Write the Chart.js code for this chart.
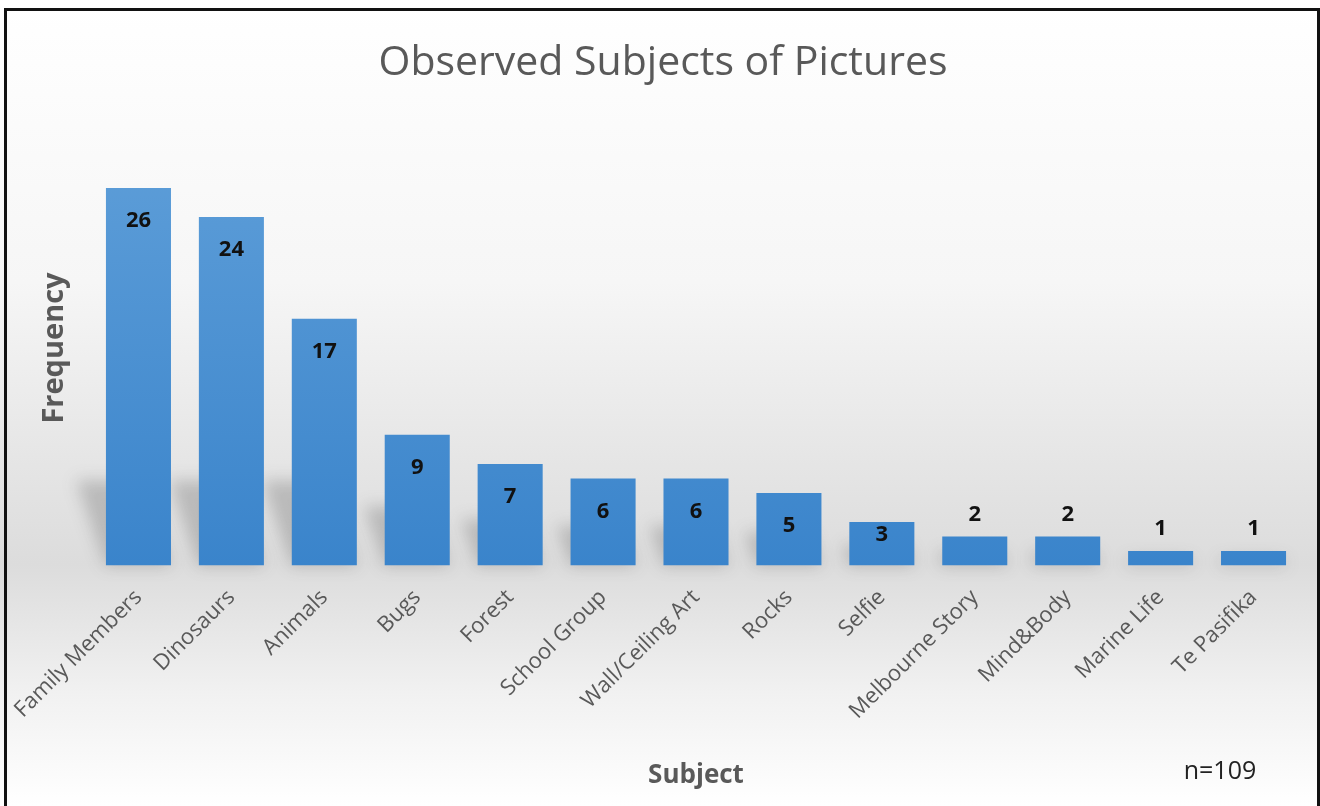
<!DOCTYPE html>
<html>
<head>
<meta charset="utf-8">
<script src="https://cdn.jsdelivr.net/npm/chart.js@4"></script>
<style>
html, body { margin: 0; padding: 0; background: #fff; }
#wrap { position: relative; width: 1320px; height: 806px; overflow: hidden; }
#chart { position: absolute; left: 0; top: 0; }
#frame { position: absolute; left: 4px; top: 8px; width: 1316px; height: 830px; border: 3px solid #111; box-sizing: border-box; pointer-events: none; }
</style>
</head>
<body>
<div id="wrap">
  <canvas id="chart" width="1320" height="806"></canvas>
  <div id="frame"></div>
</div>
<script>
// data
const subjects = ['Family Members', 'Dinosaurs', 'Animals', 'Bugs', 'Forest', 'School Group',
    'Wall/Ceiling Art', 'Rocks', 'Selfie', 'Melbourne Story', 'Mind&Body', 'Marine Life', 'Te Pasifika'];
const frequency = [26, 24, 17, 9, 7, 6, 6, 5, 3, 2, 2, 1, 1];
const yMax = 30;

const chartTitle = 'Observed Subjects of Pictures';
const yTitle = 'Frequency';
const xTitle = 'Subject';
const note = 'n=109';

const FONT = '"Open Sans", "Noto Sans", sans-serif';
const GREY = '#595959';

// grey band behind the baseline, white at the top and bottom
const backgroundPlugin = {
    id: 'background',
    beforeDraw(chart) {
        const ctx = chart.ctx;
        const g = ctx.createLinearGradient(0, 0, 0, chart.height);
        g.addColorStop(0, '#ffffff');
        g.addColorStop(0.35, '#f6f6f6');
        g.addColorStop(0.70, '#dcdcdc');
        g.addColorStop(0.86, '#f1f1f1');
        g.addColorStop(1, '#ffffff');
        ctx.save();
        ctx.fillStyle = g;
        ctx.fillRect(0, 0, chart.width, chart.height);
        ctx.restore();
    }
};

// soft perspective shadow behind each bar
const shadowPlugin = {
    id: 'barShadow',
    beforeDatasetsDraw(chart) {
        const ctx = chart.ctx;
        const meta = chart.getDatasetMeta(0);
        ctx.save();
        ctx.filter = 'blur(8px)';
        ctx.fillStyle = 'rgba(60, 60, 60, 0.24)';
        meta.data.forEach(bar => {
            const h = bar.base - bar.y;
            const sh = Math.min(h * 0.45, 85);
            const dx = sh * 0.35;
            const l = bar.x - bar.width / 2;
            const r = bar.x + bar.width / 2;
            ctx.beginPath();
            ctx.moveTo(l, bar.base);
            ctx.lineTo(r, bar.base);
            ctx.lineTo(r - dx, bar.base - sh);
            ctx.lineTo(l - dx, bar.base - sh);
            ctx.closePath();
            ctx.fill();
        });
        ctx.restore();
    }
};

// value labels: inside the top of tall bars, above short ones
const valueLabels = {
    id: 'valueLabels',
    afterDatasetsDraw(chart) {
        const ctx = chart.ctx;
        const meta = chart.getDatasetMeta(0);
        ctx.save();
        ctx.font = 'bold 22px ' + FONT;
        ctx.fillStyle = '#111';
        ctx.textAlign = 'center';
        ctx.textBaseline = 'middle';
        meta.data.forEach((bar, i) => {
            const h = bar.base - bar.y;
            let y;
            if (h > 60) y = bar.y + 33;
            else if (h > 35) y = bar.y + 13;
            else y = bar.y - 22;
            ctx.fillText(String(frequency[i]), bar.x, y);
        });
        ctx.restore();
    }
};

// title, axis titles and the sample size note
const textPlugin = {
    id: 'texts',
    afterDraw(chart) {
        const ctx = chart.ctx;
        ctx.save();
        ctx.fillStyle = GREY;
        ctx.textAlign = 'center';
        ctx.textBaseline = 'middle';

        ctx.font = '41px ' + FONT;
        ctx.fillText(chartTitle, 663, 63);

        ctx.font = 'bold 26px ' + FONT;
        ctx.fillText(xTitle, 696, 776);

        ctx.font = '25px ' + FONT;
        ctx.fillStyle = '#222';
        ctx.fillText(note, 1220, 772);

        ctx.fillStyle = GREY;
        ctx.font = 'bold 29px ' + FONT;
        ctx.translate(55, 348);
        ctx.rotate(-Math.PI / 2);
        ctx.fillText(yTitle, 0, 0);
        ctx.restore();
    }
};

const ctx = document.getElementById('chart').getContext('2d');
new Chart(ctx, {
    type: 'bar',
    data: {
        labels: subjects,
        datasets: [{
            label: yTitle,
            data: frequency,
            backgroundColor: (c) => {
                const area = c.chart.chartArea;
                if (!area) return '#5b9bd5';
                const g = c.chart.ctx.createLinearGradient(0, area.top, 0, area.bottom);
                g.addColorStop(0, '#5f9fd9');
                g.addColorStop(1, '#3a84cb');
                return g;
            },
            borderWidth: 0,
            categoryPercentage: 1,
            barPercentage: 0.7
        }]
    },
    options: {
        responsive: false,
        animation: false,
        layout: {
            padding: { left: 92, right: 20, top: 130, bottom: 0 }
        },
        plugins: {
            legend: { display: false },
            tooltip: { enabled: false },
            title: { display: false }
        },
        scales: {
            x: {
                grid: { display: false, drawTicks: false },
                border: { display: false },
                ticks: {
                    color: GREY,
                    font: { family: FONT, size: 22 },
                    minRotation: 45,
                    maxRotation: 45,
                    padding: 19,
                    autoSkip: false
                },
                afterFit(scale) {
                    scale.height = 240.5;
                    scale.paddingLeft = 0;
                    scale.paddingRight = 0;
                }
            },
            y: {
                display: false,
                min: 0,
                max: yMax
            }
        }
    },
    plugins: [backgroundPlugin, shadowPlugin, valueLabels, textPlugin]
});
</script>
</body>
</html>
